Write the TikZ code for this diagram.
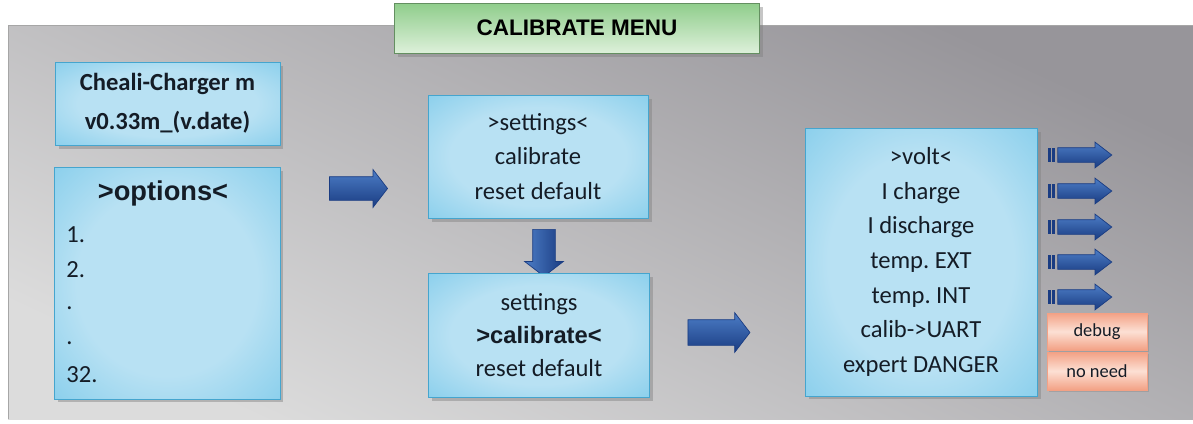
\documentclass[tikz,border=0pt]{standalone}
\usepackage{fontspec}
\setmainfont{Carlito}
\newfontfamily\arialfont{Liberation Sans}
\usepackage{tikz}
\usetikzlibrary{shapes.arrows,shadows}

\definecolor{boxin}{HTML}{B8E1F3}
\definecolor{boxmid}{HTML}{8ACFEC}
\definecolor{boxout}{HTML}{52BAE2}
\definecolor{boxline}{HTML}{45A5CE}
\definecolor{arrtop}{HTML}{4C7DC6}
\definecolor{arrbot}{HTML}{1A3C82}
\definecolor{ink}{HTML}{141C26}
\definecolor{panhi}{HTML}{DCDCDC}
\definecolor{panlo}{HTML}{97959A}
\definecolor{grtop}{HTML}{8FCD8B}
\definecolor{grbot}{HTML}{DDF0DA}
\definecolor{salin}{HTML}{FCE0D4}
\definecolor{salout}{HTML}{F3A185}

\pgfdeclareradialshading{boxglow}{\pgfpoint{0bp}{0bp}}{color(0bp)=(boxin); color(20bp)=(boxin); color(36bp)=(boxmid); color(50bp)=(boxout); color(70bp)=(boxout)}
\frenchspacing

\begin{document}
\begin{tikzpicture}[x=0.02cm,y=-0.02cm]
\tikzstyle{Menu}=[draw=boxline, shading=boxglow, text=ink, align=center, inner sep=0pt, font=\fontsize{14}{19.6}\selectfont, drop shadow={shadow xshift=2pt, shadow yshift=-2pt, opacity=0.45}];
\tikzstyle{Arr}=[single arrow, draw=arrbot, top color=arrtop, bottom color=arrbot, single arrow tip angle=105];
\tikzstyle{Tag}=[draw=salout, top color=salout, bottom color=salout, middle color=salin, text=ink, minimum width=2cm, font=\fontsize{10.5}{12}\selectfont, drop shadow={shadow xshift=1pt, shadow yshift=-1pt, opacity=0.35}];
\useasboundingbox (0,0) rectangle (1193,423);
% background panel
\fill[top color=panlo, bottom color=panhi, shading angle=-25] (8,25) rectangle (1193,419);
\draw[gray!70] (8,419) -- (8,25) -- (1193,25);
\node[draw=grtop!70!black, top color=grtop, bottom color=grbot, minimum width=7.3cm, minimum height=1cm, font=\arialfont\bfseries\fontsize{12.8}{15}\selectfont, drop shadow={shadow xshift=2pt, shadow yshift=-2pt, opacity=0.45}] (title) at (577,28) {CALIBRATE MENU};
% main screen
\node[Menu, minimum width=4.5cm, minimum height=1.66cm, font=\bfseries\fontsize{14}{22}\selectfont] (v1) at (167.5,103.5) {Cheali-Charger m\\v0.33m\_(v.date)};
\node[Menu, minimum width=4.52cm, minimum height=4.64cm] (v2) at (167,283) {};
\node[text=ink, font=\arialfont\bfseries\fontsize{15.5}{18}\selectfont] (v2t) at (163,193) {>options<};
\foreach \t/\y [count=\i] in {1./235, 2./270, ./308, ./343, 32./375}
  \node[anchor=west, text=ink, inner sep=0pt, font=\fontsize{14}{16}\selectfont] (o\i) at (66,\y) {\t};
\node[Arr, inner sep=0.23cm, minimum height=1.16cm, minimum width=0.74cm, single arrow head extend=0.14cm] (a1) at (354,188.5) {};
% options menu
\node[Menu, minimum width=4.4cm, minimum height=2.46cm] (v3) at (538,156.5) {>settings<\\calibrate\\reset default};
\node[Arr, shape border rotate=270, left color=arrtop, right color=arrbot, inner sep=0.22cm, minimum height=0.94cm, minimum width=0.76cm, single arrow head extend=0.16cm] (a2) at (544,248.5) {};
\node[Menu, minimum width=4.42cm, minimum height=2.48cm, font=\fontsize{14}{19}\selectfont] (v4) at (539,335) {settings\\{\arialfont\bfseries\fontsize{13.5}{19}\selectfont >calibrate<}\\reset default};
\node[Arr, inner sep=0.25cm, minimum height=1.24cm, minimum width=0.78cm, single arrow head extend=0.14cm] (a3) at (714,332.5) {};
% calibrate menu
\node[Menu, minimum width=4.64cm, minimum height=5.36cm, font=\fontsize{14}{19.7}\selectfont] (v5) at (921,262) {>volt<\\I charge\\I discharge\\temp. EXT\\temp. INT\\calib->UART\\expert DANGER};
\foreach \y [count=\i] in {155,191,227,262,297} {
  \node[Arr, single arrow tip angle=75, inner sep=0.14cm, minimum height=1.08cm, minimum width=0.5cm, single arrow head extend=0.11cm] (s\i) at (1080,\y) {};
  \fill[arrbot] ([shift={(-9,-7)}]s\i.west) rectangle ++(3,14);
  \fill[arrbot] ([shift={(-5,-7)}]s\i.west) rectangle ++(3,14);
}
\node[Tag, minimum height=0.74cm] (t1) at (1097,331.5) {debug};
\node[Tag, minimum height=0.76cm] (t2) at (1097,371) {no need};
\end{tikzpicture}
\end{document}
